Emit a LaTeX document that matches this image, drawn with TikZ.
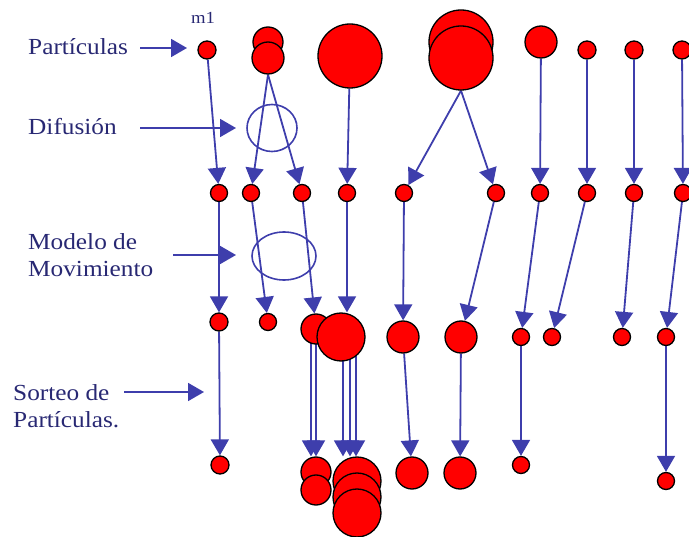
\documentclass[tikz,border=0pt]{standalone}
\usepackage{fontspec}
\setmainfont{Liberation Serif}[FakeStretch=1.1]
\usetikzlibrary{arrows.meta,backgrounds,shapes.geometric}
\definecolor{arrowblue}{RGB}{62,62,172}
\definecolor{textnavy}{RGB}{40,40,115}
\definecolor{ptred}{RGB}{255,0,0}
\begin{document}
\begin{tikzpicture}[x=1pt,y=-1pt,
  particle/.style={circle, draw=black, fill=ptred, line width=1.3pt, inner sep=0pt, minimum size=#1},
  conn/.style={draw=arrowblue, line width=1.8pt, -{Triangle[length=16pt,width=18pt]}},
  ring/.style={ellipse, draw=arrowblue, line width=1.6pt, inner sep=0pt},
  lbl/.style={text=textnavy, font=\fontsize{23}{27}\selectfont, align=left, inner sep=0pt}]
\useasboundingbox (0,0) rectangle (689,537);
% labels
\node[lbl, anchor=base west] (lpart) at (28,55) {Partículas};
\node[lbl, anchor=base west] (ldif) at (28,135) {Difusión};
\node[lbl, anchor=west] (lmod) at (28,255) {Modelo de\\Movimiento};
\node[lbl, anchor=west] (lsort) at (13,406) {Sorteo de\\Partículas.};
\node[text=textnavy, font=\fontsize{17}{17}\selectfont, anchor=base] (m1) at (203,24) {m1};
\coordinate (spart) at (140,48);  \coordinate (tpart) at (187,48);
\coordinate (sdif) at (140,128);  \coordinate (tdif) at (236,128);
\coordinate (smod) at (173,255);  \coordinate (tmod) at (236,255);
\coordinate (ssort) at (124,392); \coordinate (tsort) at (204,392);
% rings
\node[ring, minimum width=50pt, minimum height=47pt] (difring) at (272,128) {};
\node[ring, minimum width=64pt, minimum height=48pt] (modring) at (284,256) {};
% row 1
\node[particle=18pt] (p1) at (207,50) {};
\node[particle=30pt] (p2a) at (268,42) {};
\node[particle=32pt] (p2b) at (268,58) {};
\node[particle=64pt] (p3) at (350,56) {};
\node[particle=64pt] (p4a) at (461,42) {};
\node[particle=64pt] (p4b) at (461,58) {};
\node[particle=32pt] (p5) at (541,42) {};
\node[particle=18pt] (p6) at (587,50) {};
\node[particle=18pt] (p7) at (634,50) {};
\node[particle=18pt] (p8) at (682,50) {};
% row 2
\foreach \n/\x in {1/219,2/251,3/302,4/347,5/404,6/496,7/540,8/587,9/634,10/683}
  \node[particle=17pt] (r\n) at (\x,193) {};
% row 3
\node[particle=18pt] (q1) at (219,322) {};
\node[particle=17pt] (q2) at (268,322) {};
\node[particle=30pt] (q3a) at (316,329) {};
\node[particle=48pt] (q3b) at (341,337) {};
\node[particle=32pt] (q4) at (403,337) {};
\node[particle=32pt] (q5) at (461,337) {};
\node[particle=17pt] (q6) at (521,337) {};
\node[particle=17pt] (q7) at (552,337) {};
\node[particle=17pt] (q8) at (622,337) {};
\node[particle=17pt] (q9) at (666,337) {};
% row 4
\node[particle=18pt] (s1) at (220,465) {};
\node[particle=30pt] (s2a) at (316,472) {};
\node[particle=30pt] (s2b) at (316,490) {};
\node[particle=48pt] (s3a) at (357,481) {};
\node[particle=48pt] (s3b) at (357,497) {};
\node[particle=48pt] (s3c) at (357,513) {};
\node[particle=32pt] (s4) at (412,473) {};
\node[particle=32pt] (s5) at (460,473) {};
\node[particle=17pt] (s6) at (521,465) {};
\node[particle=17pt] (s7) at (666,481) {};
\begin{scope}[on background layer]
  \draw[conn] (spart) -- (tpart);
  \draw[conn] (sdif) -- (tdif);
  \draw[conn] (smod) -- (tmod);
  \draw[conn] (ssort) -- (tsort);
  % row 1 -> 2
  \draw[conn] (p1) -- (r1);
  \draw[conn] (p2b.south) -- (r2);
  \draw[conn] (p2b.south) -- (r3);
  \draw[conn] (p3) -- (r4);
  \draw[conn] (p4b.south) -- (r5);
  \draw[conn] (p4b.south) -- (r6);
  \draw[conn] (p5) -- (r7);
  \draw[conn] (p6) -- (r8);
  \draw[conn] (p7) -- (r9);
  \draw[conn] (p8) -- (r10);
  % row 2 -> 3
  \draw[conn] (r1) -- (q1);
  \draw[conn] (r2) -- (q2);
  \draw[conn] (r3) -- (q3a);
  \draw[conn] (r4) -- (r4 |- q3b.north);
  \draw[conn] (r5) -- (q4);
  \draw[conn] (r6) -- (q5);
  \draw[conn] (r7) -- (q6);
  \draw[conn] (r8) -- (q7);
  \draw[conn] (r9) -- (q8);
  \draw[conn] (r10) -- (q9);
  % row 3 -> 4
  \draw[conn] (q1) -- (s1);
  \draw[conn] ([xshift=-5pt]q3a.center) -- ([xshift=-5pt]s2a.north);
  \draw[conn] (q3a.center) -- (s2a.north);
  \draw[conn] ([xshift=2pt]q3b.center) -- ([xshift=-14pt]s3a.north);
  \draw[conn] ([xshift=9pt]q3b.center) -- ([xshift=-7pt]s3a.north);
  \draw[conn] ([xshift=15pt]q3b.center) -- ([xshift=-1pt]s3a.north);
  \draw[conn] (q4) -- (s4);
  \draw[conn] (q5) -- (s5);
  \draw[conn] (q6) -- (s6);
  \draw[conn] (q9) -- (s7);
\end{scope}
\end{tikzpicture}
\end{document}
